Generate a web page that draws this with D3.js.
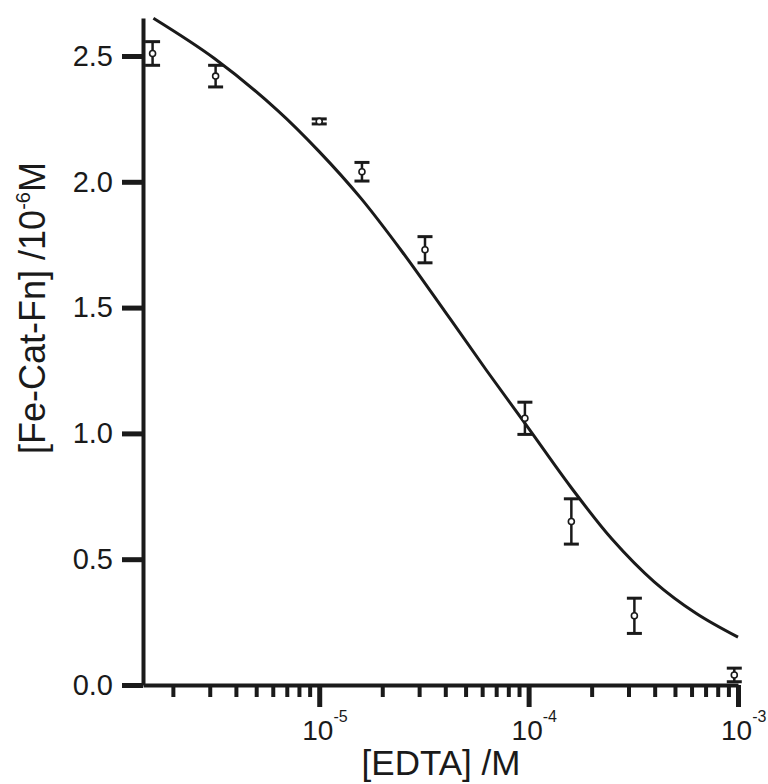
<!DOCTYPE html>
<html>
<head>
<meta charset="utf-8">
<script src="https://cdn.jsdelivr.net/npm/d3@7"></script>
<style>
  body { margin: 0; background: #fff; }
  text { font-family: "Liberation Sans", Arial, Helvetica, sans-serif; fill: #1a1a1a; }
</style>
</head>
<body>
<svg id="chart" width="768" height="784"></svg>
<script>
// Measured iron-catechol-ferritin complex vs. EDTA concentration
const edta = [1.6e-6, 3.2e-6, 1.0e-5, 1.6e-5, 3.2e-5, 9.6e-5, 1.6e-4, 3.2e-4, 9.6e-4];
const complexConc = [2.51, 2.42, 2.24, 2.04, 1.73, 1.06, 0.65, 0.275, 0.04];
const complexErr = [0.047, 0.043, 0.01, 0.037, 0.052, 0.064, 0.09, 0.07, 0.027];

// Fitted competition curve
const fitEdta = [1.615e-6, 3.16e-6, 6.3e-6, 1e-5, 1.58e-5, 2.5e-5, 3.98e-5, 6.3e-5, 1e-4, 1.58e-4, 2.5e-4, 3.98e-4, 6.3e-4, 1e-3];
const fitConc = [2.65, 2.49, 2.285, 2.12, 1.935, 1.72, 1.485, 1.25, 1.02, 0.79, 0.58, 0.41, 0.285, 0.19];

// Axis ticks
const yTicks = [0, 0.5, 1.0, 1.5, 2.0, 2.5];
const xMajorExp = [-5, -4, -3];
const xMinorTicks = [];
for (let e = -6; e <= -4; e++) for (let m = 2; m <= 9; m++) {
  const v = m * Math.pow(10, e);
  if (v > 1.44e-6 && v < 1e-3) xMinorTicks.push(v);
}

const ink = "#1a1a1a";
const svg = d3.select("#chart");

const x = d3.scaleLog().domain([1.44e-6, 1e-3]).range([143, 738]);
const y = d3.scaleLinear().domain([0, 2.651]).range([685, 18]);

// Y axis
const yAxis = svg.append("g").attr("transform", "translate(143,0)")
  .call(d3.axisLeft(y).tickValues(yTicks).tickSize(21).tickSizeOuter(0)
    .tickPadding(9).tickFormat(d3.format(".1f")));
yAxis.select(".domain").attr("stroke", ink).attr("stroke-width", 4);
yAxis.selectAll(".tick line").attr("stroke", ink).attr("stroke-width", 5);
yAxis.selectAll(".tick text").attr("font-size", 29).attr("fill", ink)
  .attr("font-family", "'Liberation Sans', Arial, sans-serif");

// X axis: minor ticks
const xMinor = svg.append("g").attr("transform", "translate(0,685)")
  .call(d3.axisBottom(x).tickValues(xMinorTicks).tickSize(12).tickSizeOuter(0).tickFormat(""));
xMinor.select(".domain").attr("stroke", ink).attr("stroke-width", 4);
xMinor.selectAll(".tick line").attr("stroke", ink).attr("stroke-width", 4);

// X axis: decade ticks
const xMajor = svg.append("g").attr("transform", "translate(0,685)")
  .call(d3.axisBottom(x).tickValues(xMajorExp.map(e => Math.pow(10, e))).tickSize(22).tickSizeOuter(0).tickFormat(""));
xMajor.select(".domain").remove();
xMajor.selectAll(".tick line").attr("stroke", ink).attr("stroke-width", 5);

// Decade labels 10^n
xMajorExp.forEach(e => {
  const px = x(Math.pow(10, e));
  const t = svg.append("text").attr("x", px - 17).attr("y", 740).attr("font-size", 28);
  t.append("tspan").text("10");
  t.append("tspan").attr("font-size", 16).attr("dy", -18).text("-" + (-e));
});

// Fitted curve
const line = d3.line().x(d => x(d[0])).y(d => y(d[1])).curve(d3.curveCatmullRom.alpha(0.5));
svg.append("path").datum(fitEdta.map((v, i) => [v, fitConc[i]]))
  .attr("d", line).attr("fill", "none").attr("stroke", ink).attr("stroke-width", 3);

// Error bars and markers
const pts = edta.map((v, i) => ({ x: v, y: complexConc[i], e: complexErr[i] }));
const g = svg.append("g");
pts.forEach(p => {
  const cx = x(p.x);
  const y0 = y(p.y - p.e), y1 = y(p.y + p.e);
  g.append("line").attr("x1", cx).attr("x2", cx).attr("y1", y0).attr("y2", y1)
    .attr("stroke", ink).attr("stroke-width", 2.5);
  [y0, y1].forEach(yy => g.append("line").attr("x1", cx - 7.5).attr("x2", cx + 7.5)
    .attr("y1", yy).attr("y2", yy).attr("stroke", ink).attr("stroke-width", 3));
  g.append("circle").attr("cx", cx).attr("cy", y(p.y)).attr("r", 3)
    .attr("fill", "#fff").attr("stroke", ink).attr("stroke-width", 1.6);
});

// Axis titles
svg.append("text").attr("x", 441).attr("y", 775).attr("text-anchor", "middle")
  .attr("font-size", 35).text("[EDTA] /M");

const yt = svg.append("text").attr("transform", "translate(45,308) rotate(-90)")
  .attr("text-anchor", "middle").attr("font-size", 36);
yt.append("tspan").text("[Fe-Cat-Fn] /10");
yt.append("tspan").attr("font-size", 20).attr("dy", -15).text("-6");
yt.append("tspan").attr("dy", 15).text("M");
</script>
</body>
</html>
